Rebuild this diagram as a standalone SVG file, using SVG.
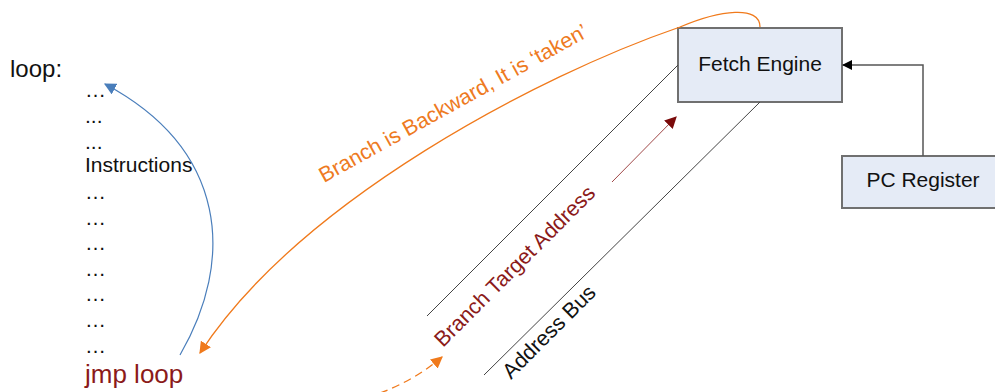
<svg xmlns="http://www.w3.org/2000/svg" width="995" height="392" viewBox="0 0 995 392">
<style>
text{font-family:"Liberation Sans",Arial,sans-serif;}
.box{fill:#e5ebf6;stroke:#707070;stroke-width:2;}
.lbl{font-size:21px;fill:#111;}
.code{font-size:21px;fill:#111;}
.bus{fill:none;stroke:#444;stroke-width:1;}
</style>
<defs>
<marker id="mOr" viewBox="0 0 10 10" refX="9" refY="5" markerWidth="12" markerHeight="12" markerUnits="userSpaceOnUse" orient="auto"><path d="M0,0L10,5L0,10z" fill="#f07a1c"/></marker>
<marker id="mBl" viewBox="0 0 10 10" refX="9" refY="5" markerWidth="12" markerHeight="12" markerUnits="userSpaceOnUse" orient="auto"><path d="M0,0L10,5L0,10z" fill="#4a7ebb"/></marker>
<marker id="mRd" viewBox="0 0 10 10" refX="9" refY="5" markerWidth="12" markerHeight="12" markerUnits="userSpaceOnUse" orient="auto"><path d="M0,0L10,5L0,10z" fill="#7a0a0a"/></marker>
<marker id="mBk" viewBox="0 0 10 10" refX="9" refY="5" markerWidth="10" markerHeight="10" markerUnits="userSpaceOnUse" orient="auto"><path d="M0,0L10,5L0,10z" fill="#000"/></marker>
</defs>

<g id="code">
<text x="10" y="77" style="font-size:24px" fill="#111">loop:</text>
<text class="code" x="85" y="97">…</text>
<text class="code" x="85" y="123">...</text>
<text class="code" x="85" y="149">...</text>
<text class="code" x="85" y="172">Instructions</text>
<text class="code" x="85" y="199">…</text>
<text class="code" x="85" y="225">…</text>
<text class="code" x="85" y="250">…</text>
<text class="code" x="85" y="276">…</text>
<text class="code" x="85" y="301">…</text>
<text class="code" x="85" y="327">…</text>
<text class="code" x="85" y="353">…</text>
<text x="85" y="383" style="font-size:26px" fill="#8b1a1a">jmp loop</text>
</g>

<g id="fetch-engine">
<rect class="box" x="678" y="28" width="164" height="74"/>
<text class="lbl" x="760" y="71" text-anchor="middle">Fetch Engine</text>
</g>

<g id="pc-register">
<rect class="box" x="842" y="156" width="160" height="52"/>
<text class="lbl" x="923" y="187" text-anchor="middle">PC Register</text>
</g>

<g id="connectors">
<path d="M923,156 V65 H843" fill="none" stroke="#555" stroke-width="1.5" marker-end="url(#mBk)"/>
<line class="bus" x1="678" y1="65" x2="427" y2="316"/>
<line class="bus" x1="760" y1="102" x2="484" y2="375"/>
<line x1="612" y1="182" x2="676" y2="117" stroke="#a04848" stroke-width="1" marker-end="url(#mRd)"/>
<path d="M760,27 C760,5 720,10 680,27 C540,75 300,200 200,353" fill="none" stroke="#f07a1c" stroke-width="1.3" marker-end="url(#mOr)"/>
<path d="M180,355 C235,260 228,150 105,84" fill="none" stroke="#4a7ebb" stroke-width="1.2" marker-end="url(#mBl)"/>
<path d="M380,393 Q415,380 442,357" fill="none" stroke="#f07a1c" stroke-width="1.3" stroke-dasharray="8,5" marker-end="url(#mOr)"/>
</g>

<g id="labels">
<text x="324" y="183" transform="rotate(-29 324 183)" style="font-size:21.5px" fill="#ee7a22">Branch is Backward, It is ‘taken’</text>
<text x="443" y="348" transform="rotate(-45 443 348)" style="font-size:21.5px" fill="#8b1a1a">Branch Target Address</text>
<text x="511" y="380" transform="rotate(-45 511 380)" style="font-size:21.5px" fill="#111">Address Bus</text>
</g>
</svg>
